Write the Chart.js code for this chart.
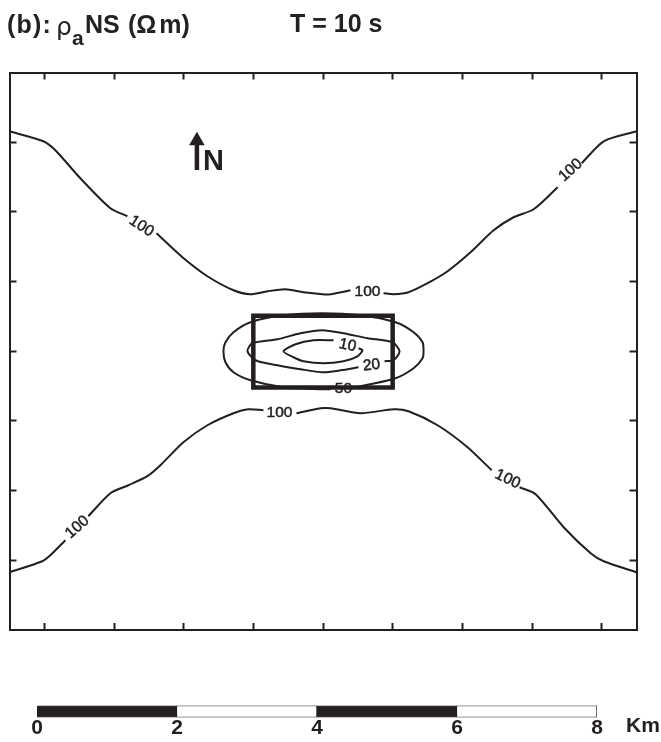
<!DOCTYPE html>
<html>
<head>
<meta charset="utf-8">
<script src="https://cdn.jsdelivr.net/npm/chart.js@4/dist/chart.umd.min.js"></script>
<style>
  html, body { margin: 0; padding: 0; background: #fff; }
  #page { position: relative; width: 661px; height: 742px; overflow: hidden; font-family: "Liberation Sans", Arial, sans-serif; color: #222; }
  #mapChart { position: absolute; left: 0; top: 0; }
  #scaleChart { position: absolute; left: 0; top: 700px; }
  .txt { position: absolute; font-weight: bold; white-space: nowrap; line-height: 1; }
</style>
</head>
<body>
<div id="page">
  <canvas id="mapChart" width="661" height="700"></canvas>
  <canvas id="scaleChart" width="661" height="42"></canvas>
  <span class="txt" style="left:7px;top:12px;font-size:25px;letter-spacing:1.2px">(b):</span>
  <span class="txt" style="left:56px;top:14px;font-size:25px;font-weight:normal;font-family:'DejaVu Sans'">ρ</span>
  <span class="txt" style="left:72px;top:27px;font-size:21px">a</span>
  <span class="txt" style="left:85px;top:12px;font-size:25px">NS</span>
  <span class="txt" style="left:128px;top:12px;font-size:25px;word-spacing:-4px">(Ω m)</span>
  <span class="txt" style="left:290px;top:11px;font-size:25px">T = 10 s</span>
  <span class="txt" style="left:203px;top:146px;font-size:29px">N</span>
  <span class="txt" style="left:626px;top:714px;font-size:21px">Km</span>
</div>
<script>
const xTicks = [0, 1, 2, 3, 4, 5, 6, 7, 8];
const yTicks = [1, 2, 3, 4, 5, 6, 7];

// contour 100, north branch, cut where the labels sit
const n100aX = [-0.5, -0.014, 0.158, 0.517, 0.948, 1.192];
const n100aY = [7.156, 7.013, 6.884, 6.482, 6.052, 5.937];
const n100bX = [1.609, 1.982, 2.341, 2.715, 2.959, 3.203, 3.461, 3.72, 3.993, 4.108, 4.395];
const n100bY = [5.693, 5.349, 5.076, 4.875, 4.818, 4.861, 4.89, 4.846, 4.818, 4.818, 4.875];
const n100cX = [4.869, 5.013, 5.228, 5.501, 5.788, 6.118, 6.449, 6.736, 7.023, 7.368];
const n100cY = [4.832, 4.818, 4.846, 4.976, 5.148, 5.42, 5.736, 5.923, 6.037, 6.353];
const n100dX = [7.713, 8.029, 8.5];
const n100dY = [6.697, 7.013, 7.156];

// contour 100, south branch
const s100aX = [-0.5, -0.029, 0.086, 0.302];
const s100aY = [0.829, 0.987, 1.073, 1.288];
const s100bX = [0.632, 0.948, 1.206, 1.479, 1.666, 1.996, 2.341, 2.715, 2.93, 3.145];
const s100bY = [1.633, 1.963, 2.077, 2.207, 2.364, 2.694, 2.938, 3.11, 3.168, 3.154];
const s100cX = [3.619, 3.964, 4.108, 4.539, 5.013, 5.228, 5.645, 6.075, 6.42];
const s100cY = [3.11, 3.182, 3.182, 3.11, 3.168, 3.139, 2.938, 2.623, 2.293];
const s100dX = [6.822, 7.052, 7.454, 7.842, 8.029, 8.5];
const s100dY = [2.049, 1.948, 1.475, 1.102, 0.987, 0.829];

// inner contours
const c50X = [4.481, 5.041, 5.3, 5.429, 5.443, 5.429, 5.3, 5.041, 4.539, 3.993, 3.433, 2.959, 2.715, 2.6, 2.571, 2.6, 2.715, 2.959, 3.433, 3.993, 4.108];
const c50Y = [3.484, 3.613, 3.756, 3.9, 4, 4.129, 4.273, 4.416, 4.516, 4.545, 4.516, 4.416, 4.273, 4.129, 4, 3.842, 3.699, 3.584, 3.484, 3.455, 3.455];
const c20X = [4.51, 4.251, 3.993, 3.677, 3.346, 3.03, 2.916, 2.987, 3.346, 3.677, 3.993, 4.294, 4.639, 4.998, 5.099, 5.013, 4.883];
const c20Y = [3.77, 3.727, 3.699, 3.742, 3.799, 3.871, 4, 4.115, 4.172, 4.258, 4.301, 4.258, 4.187, 4.129, 4, 3.871, 3.857];
const c10X = [4.151, 3.864, 3.605, 3.433, 3.576, 3.72, 4.007, 4.294, 4.495, 4.567, 4.51];
const c10Y = [4.158, 4.158, 4.1, 4, 3.914, 3.857, 3.828, 3.857, 3.928, 4.014, 4.043];

// conductive block outline (km)
const blockX = [3, 5, 5, 3, 3];
const blockY = [3.48, 3.48, 4.51, 4.51, 3.48];

// north arrow
const arrowX = [2.19, 2.19];
const arrowY = [6.6, 7.0];
const arrowHeadX = [2.19];
const arrowHeadY = [7.02];

// contour labels
const labelText = ['100', '100', '100', '100', '100', '100', '10', '20', '50'];
const labelX = [1.393, 4.639, 7.555, 0.474, 3.375, 6.65, 4.352, 4.697, 4.294];
const labelY = [5.793, 4.861, 6.597, 1.475, 3.125, 2.164, 4.086, 3.799, 3.469];
const labelAngle = [33, 0, -42, -42, 0, 25, 12, -6, 0];

// scale bar
const scaleSegments = [2, 2, 2, 2];
const scaleColors = ['#231f20', '#ffffff', '#231f20', '#ffffff'];

const INK = '#231f20';
const pts = (xs, ys) => xs.map((x, i) => ({ x, y: ys[i] }));

const contour = (xs, ys) => ({
  data: pts(xs, ys), showLine: true, pointRadius: 0,
  borderColor: INK, borderWidth: 2, tension: 0.25, fill: false,
});

// zero-size axes that only carry the inward ticks and the frame
function frameAxis(position, ticks, min, max) {
  return {
    type: 'linear', position, min, max,
    afterBuildTicks: s => { s.ticks = ticks.map(value => ({ value })); },
    afterFit: s => { if (s.isHorizontal()) s.height = 0; else s.width = 0; },
    ticks: { display: false },
    border: { display: true, color: INK, width: 2 },
    grid: { display: true, drawOnChartArea: false, drawTicks: true, tickLength: -7, tickWidth: 2, tickColor: INK },
  };
}

const contourLabels = {
  id: 'contourLabels',
  beforeDatasetsDraw(chart) {
    const { ctx, scales } = chart;
    ctx.save();
    ctx.fillStyle = INK;
    ctx.strokeStyle = INK;
    ctx.lineWidth = 0.5;
    ctx.font = '15.5px "Liberation Sans", Arial, sans-serif';
    ctx.textAlign = 'center';
    ctx.textBaseline = 'middle';
    labelText.forEach((t, i) => {
      ctx.save();
      ctx.translate(scales.x.getPixelForValue(labelX[i]), scales.y.getPixelForValue(labelY[i]));
      ctx.rotate(labelAngle[i] * Math.PI / 180);
      ctx.fillText(t, 0, 0);
      ctx.strokeText(t, 0, 0);
      ctx.restore();
    });
    ctx.restore();
  },
};

new Chart(document.getElementById('mapChart'), {
  type: 'scatter',
  data: {
    datasets: [
      contour(n100aX, n100aY), contour(n100bX, n100bY), contour(n100cX, n100cY), contour(n100dX, n100dY),
      contour(s100aX, s100aY), contour(s100bX, s100bY), contour(s100cX, s100cY), contour(s100dX, s100dY),
      contour(c50X, c50Y), contour(c20X, c20Y), contour(c10X, c10Y),
      { data: pts(blockX, blockY), showLine: true, pointRadius: 0, borderColor: INK, borderWidth: 4.5, borderJoinStyle: 'miter', borderCapStyle: 'square', tension: 0 },
      { data: pts(arrowX, arrowY), showLine: true, pointRadius: 0, borderColor: INK, borderWidth: 4.5, tension: 0 },
      { data: pts(arrowHeadX, arrowHeadY), pointStyle: 'triangle', pointRadius: 9, pointBackgroundColor: INK, pointBorderColor: INK, pointBorderWidth: 0 },
    ],
  },
  options: {
    responsive: false, animation: false,
    layout: { padding: { left: 9.5, right: 24.5, top: 72.5, bottom: 70 } },
    plugins: { legend: { display: false }, title: { display: false }, tooltip: { enabled: false } },
    scales: {
      x: frameAxis('bottom', xTicks, -0.5, 8.5),
      xTop: frameAxis('top', xTicks, -0.5, 8.5),
      y: frameAxis('left', yTicks, 0, 8),
      yRight: frameAxis('right', yTicks, 0, 8),
    },
  },
  plugins: [contourLabels],
});

new Chart(document.getElementById('scaleChart'), {
  type: 'bar',
  data: {
    labels: ['km'],
    datasets: scaleSegments.map((v, i) => ({
      data: [v], backgroundColor: scaleColors[i], borderColor: INK, borderWidth: 1,
      barPercentage: 1, categoryPercentage: 1,
    })),
  },
  options: {
    indexAxis: 'y', responsive: false, animation: false,
    layout: { padding: { left: 37, right: 64, top: 5.5, bottom: 0 } },
    plugins: { legend: { display: false }, tooltip: { enabled: false } },
    scales: {
      y: { stacked: true, display: false },
      x: {
        stacked: true, min: 0, max: 8,
        afterFit: s => { s.height = 24.5; },
        grid: { display: false, drawTicks: false }, border: { display: false },
        ticks: { stepSize: 2, padding: 0, maxRotation: 0, color: INK, font: { family: '"Liberation Sans", Arial, sans-serif', size: 21, weight: 'bold', lineHeight: 1 } },
      },
    },
  },
});
</script>
</body>
</html>
